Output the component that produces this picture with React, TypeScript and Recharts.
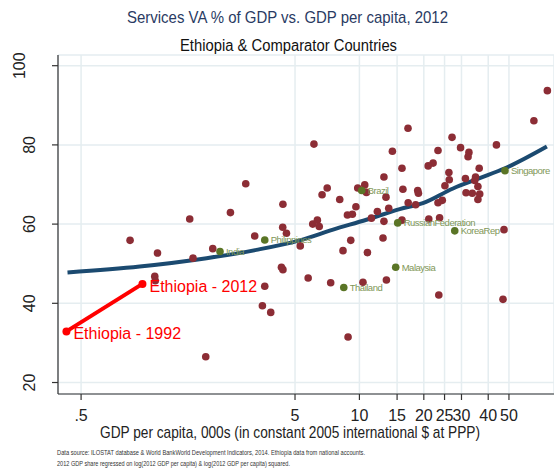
import React from 'react';
import { ComposedChart, Scatter, Line, XAxis, YAxis, CartesianGrid } from 'recharts';

const xTicks = [0.5, 5, 10, 15, 20, 25, 30, 40, 50];
const yTicks = [20, 40, 60, 80, 100];

// other countries, 2012: GDP per capita (000s PPP) and services VA % of GDP
const otherGdp = [
  0.847, 1.138, 1.105, 1.111, 1.668, 2.063, 3.24, 4.38, 4.56, 4.32,
  4.39, 3.61, 3.52, 3.85, 1.913, 1.61, 2.495, 2.942, 4.39, 5.29,
  5.76, 75.6, 65.4, 16.87, 27.1, 6.13, 29.7, 43.7, 23.3, 14.26,
  32.5, 32.2, 22.1, 20.96, 15.81, 36.3, 13.02, 26.2, 26.3, 31.3,
  34.9, 34.6, 25.1, 35.8, 7.07, 6.69, 9.82, 10.59, 10.78, 13.31,
  15.97, 18.73, 18.87, 31.5, 33.7, 36.5, 35.8, 8.09, 9.63, 16.9,
  18.32, 23.3, 24.4, 13.71, 12.13, 8.79, 9.27, 11.38, 13.02, 6.05,
  6.36, 6.49, 15.81, 21.1, 23.7, 47.4, 9.11, 12.89, 8.38, 10.9,
  7.34, 10.39, 13.37, 23.5, 46.9, 8.85,
];
const otherServ = [
  55.9, 52.7, 46.8, 45.7, 51.4, 53.8, 57.0, 59.2, 57.7, 49.1,
  48.5, 44.3, 39.4, 37.7, 26.5, 61.3, 62.9, 70.2, 65.0, 54.5,
  46.4, 93.7, 86.1, 84.2, 81.9, 80.2, 79.3, 80.0, 78.6, 78.4,
  78.1, 77.0, 75.4, 74.7, 74.1, 74.1, 71.9, 73.0, 71.2, 71.5,
  71.9, 71.0, 69.7, 69.5, 69.1, 67.4, 69.1, 69.9, 68.0, 66.8,
  68.8, 68.5, 67.8, 67.9, 67.8, 67.6, 66.2, 66.2, 64.4, 65.4,
  64.9, 65.4, 66.0, 64.0, 63.2, 62.3, 62.5, 61.5, 60.7, 60.0,
  61.0, 59.4, 61.0, 61.3, 61.6, 58.6, 55.9, 56.5, 53.3, 52.8,
  45.2, 45.3, 45.9, 42.1, 41.0, 31.5,
];

const compNames = ['India', 'Philippines', 'Brazil', 'RussianFederation', 'Singapore', 'KoreaRep', 'Thailand', 'Malaysia'];
const compGdp = [2.23, 3.61, 10.25, 15.1, 47.9, 27.9, 8.45, 14.78];
const compServ = [53.1, 56.0, 68.5, 60.3, 73.5, 58.3, 44.0, 49.1];

const ethLabels = ['Ethiopia - 1992', 'Ethiopia - 2012'];
const ethGdp = [0.427, 0.968];
const ethServ = [32.9, 44.9];

// fitted quadratic in log GDP per capita
const fitGdp = [0.432, 0.94, 1.93, 3.3, 5.26, 7.53, 10.78, 15.43, 19.8, 27.4, 36.5, 47.9, 75.2];
const fitServ = [47.8, 49.3, 51.4, 53.5, 55.9, 58.6, 61.1, 63.8, 65.3, 69.0, 71.6, 74.1, 79.6];

const others = otherGdp.map((x, i) => ({ x, y: otherServ[i] }));
const comps = compGdp.map((x, i) => ({ x, y: compServ[i], name: compNames[i] }));
const ethiopia = ethGdp.map((x, i) => ({ x, y: ethServ[i], name: ethLabels[i] }));
const fit = fitGdp.map((x, i) => ({ x, y: fitServ[i] }));

const font = "'Liberation Sans', Arial, sans-serif";

const XTick = ({ x, y, payload }: any) => (
  <text x={x} y={y} dy={19} textAnchor="middle" fontSize={16} fontFamily={font} fill="#222">
    {payload.value === 0.5 ? '.5' : payload.value}
  </text>
);

const YTick = ({ x, y, payload }: any) => {
  const bx = payload.value === 100 ? x - 25 : x - 15;
  return (
    <text x={bx} y={y} textAnchor="middle" fontSize={16} fontFamily={font} fill="#222"
      transform={`rotate(-90, ${bx}, ${y})`}>
      {payload.value}
    </text>
  );
};

const RedDot = ({ cx, cy }: any) => <circle cx={cx} cy={cy} r={3.8} fill="#8c2d35" />;

const CompDot = ({ cx, cy, payload }: any) => (
  <g>
    <circle cx={cx} cy={cy} r={3.8} fill="#5a7526" />
    <text x={cx + 6} y={cy} dy="0.35em" fontSize={9.5} letterSpacing={-0.5} fontFamily={font} fill="#7f9758">
      {payload.name}
    </text>
  </g>
);

const EthDot = ({ cx, cy, payload }: any) => (
  <g>
    <circle cx={cx} cy={cy} r={4} fill="#ff0000" />
    <text x={cx + 7} y={cy + 7.7} fontSize={16} fontFamily={font} fill="#ff0000">
      {payload.name}
    </text>
  </g>
);

export default function App() {
  return (
    <div style={{ position: 'absolute', left: 0, top: 0, width: 554, height: 475, background: '#fff' }}>
      <ComposedChart width={554} height={475} margin={{ top: 55, right: 0, bottom: 0, left: 0 }}>
        <CartesianGrid stroke="#e5edf0" strokeWidth={1.5} />
        <XAxis
          type="number"
          dataKey="x"
          scale="log"
          domain={[0.39, 81.2]}
          allowDataOverflow
          ticks={xTicks}
          interval={0}
          height={81}
          tickSize={6}
          tick={<XTick />}
          stroke="#333"
          strokeWidth={1.2}
        />
        <YAxis
          type="number"
          dataKey="y"
          domain={[17.1, 102.7]}
          allowDataOverflow
          ticks={yTicks}
          interval={0}
          width={58}
          tickSize={6}
          tick={<YTick />}
          stroke="#333"
          strokeWidth={1.2}
        />
        <Scatter data={others} shape={<RedDot />} isAnimationActive={false} />
        <Line data={fit} dataKey="y" type="monotone" stroke="#1b4a70" strokeWidth={4}
          dot={false} activeDot={false} isAnimationActive={false} />
        <Scatter data={comps} shape={<CompDot />} isAnimationActive={false} />
        <Scatter data={ethiopia} shape={<EthDot />} line={{ stroke: '#ff0000', strokeWidth: 4 }}
          isAnimationActive={false} />
      </ComposedChart>
      <svg width={554} height={475} style={{ position: 'absolute', left: 0, top: 0, pointerEvents: 'none' }}>
        <text x={287.5} y={23.3} textAnchor="middle" fontSize={17} fontFamily={font} fill="#2a3b63"
          textLength={321} lengthAdjust="spacingAndGlyphs">
          Services VA % of GDP vs. GDP per capita, 2012
        </text>
        <text x={288.5} y={50.7} textAnchor="middle" fontSize={16} fontFamily={font} fill="#111"
          textLength={217} lengthAdjust="spacingAndGlyphs">
          Ethiopia &amp; Comparator Countries
        </text>
        <text x={290} y={438.3} textAnchor="middle" fontSize={17} fontFamily={font} fill="#222"
          textLength={380} lengthAdjust="spacingAndGlyphs">
          GDP per capita, 000s (in constant 2005 international $ at PPP)
        </text>
        <text x={57} y={455} fontSize={6.5} fontFamily={font} fill="#333"
          textLength={308} lengthAdjust="spacingAndGlyphs">
          Data source: ILOSTAT database &amp; World BankWorld Development Indicators, 2014. Ethiopia data from national accounts.
        </text>
        <text x={57} y={466} fontSize={6.5} fontFamily={font} fill="#333"
          textLength={233} lengthAdjust="spacingAndGlyphs">
          2012 GDP share regressed on log(2012 GDP per capita) &amp; log(2012 GDP per capita) squared.
        </text>
      </svg>
    </div>
  );
}
